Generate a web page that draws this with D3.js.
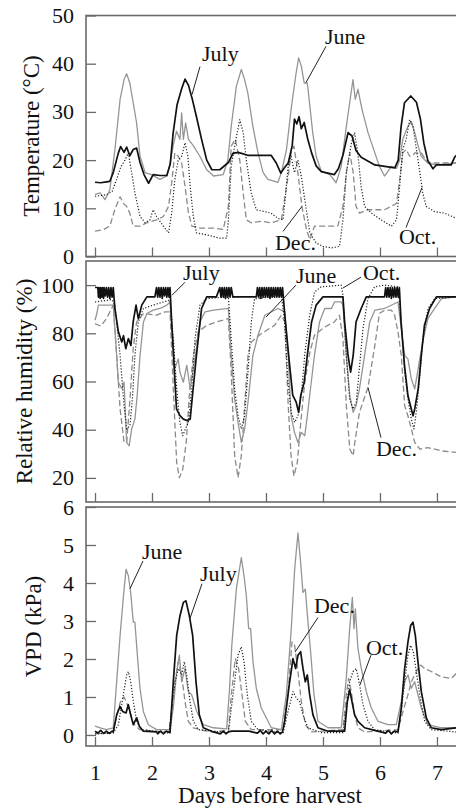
<!DOCTYPE html>
<html><head><meta charset="utf-8">
<script src="https://cdn.jsdelivr.net/npm/d3@7"></script>
<style>
html,body{margin:0;padding:0;background:#fff;}
svg{display:block;}
svg text{font-family:"Liberation Serif","DejaVu Serif",serif !important;fill:#111;}
</style></head>
<body>
<svg id="chart" width="456" height="808"></svg>
<script>
// ---------------- DATA ----------------
const dayTicks = [1,2,3,4,5,6,7];
const tempTicks = [0,10,20,30,40,50];
const rhTicks = [20,40,60,80,100];
const vpdTicks = [0,1,2,3,4,5,6];

// Temperature (°C)
const tempJune = [[1.0,12.9],[1.09,13.2],[1.175,11.8],[1.26,13.8],[1.35,22.2],[1.44,32.6],[1.51,36.7],[1.555,37.9],[1.61,36],[1.67,31.9],[1.73,27.7],[1.79,20.8],[1.88,17.4],[1.99,17],[2.14,16],[2.26,16.7],[2.32,19.4],[2.37,22.9],[2.43,26],[2.49,24.3],[2.52,29.8],[2.55,24.3],[2.59,27.7],[2.64,24.3],[2.73,22.9],[2.84,20.8],[2.96,18],[3.08,16.7],[3.25,17],[3.33,20],[3.39,27],[3.48,35.3],[3.567,38.8],[3.625,36.7],[3.68,34],[3.77,27],[3.86,21.5],[3.95,17.4],[4.035,16],[4.21,15.4],[4.27,17.4],[4.36,22.2],[4.44,30.5],[4.52,37.4],[4.573,41.2],[4.62,39.5],[4.67,36],[4.725,36],[4.77,31.2],[4.82,25.7],[4.88,20.8],[4.97,17.7],[5.12,17],[5.23,15.3],[5.32,18.7],[5.41,27],[5.485,33.3],[5.526,36.7],[5.567,32.6],[5.614,34.7],[5.66,31.9],[5.70,29.8],[5.79,25.7],[5.91,21.5],[5.99,18.7],[6.08,16.7],[6.2,18.7],[6.29,18.3],[6.345,20],[6.40,24.3],[6.49,27],[6.55,28],[6.61,25.7],[6.67,22.9],[6.725,20.8],[6.84,19.4],[6.99,19],[7.34,19.4]];
const tempJuly = [[1.0,15.4],[1.1,15.3],[1.2,15.5],[1.26,15.6],[1.32,17.4],[1.41,21.5],[1.45,22.8],[1.51,21.6],[1.555,22.7],[1.61,20.9],[1.67,22.2],[1.73,22.5],[1.79,19.5],[1.86,17],[1.94,15.2],[2.02,17],[2.14,16.8],[2.26,16.8],[2.32,19.2],[2.37,25.5],[2.44,31.5],[2.52,34.8],[2.58,36.8],[2.64,35.5],[2.71,32.5],[2.78,29],[2.87,24.3],[2.96,20],[3.05,18],[3.19,18],[3.34,19.5],[3.42,21.4],[3.51,21.6],[3.68,21.0],[4.09,21.0],[4.18,19.4],[4.26,17.3],[4.33,18.5],[4.39,19.4],[4.46,23],[4.50,28.5],[4.54,27.5],[4.58,29.0],[4.62,26.5],[4.67,27.8],[4.73,24.5],[4.80,21.5],[4.88,18.8],[4.97,17.6],[5.2,17.0],[5.27,18.2],[5.35,21],[5.44,25.7],[5.51,25],[5.58,22],[5.67,20.6],[5.91,19.0],[6.26,18.4],[6.32,20],[6.37,26.9],[6.43,31.9],[6.54,33.3],[6.64,32],[6.71,28.5],[6.77,23.5],[6.84,19.9],[6.93,18.2],[6.99,19.0],[7.25,19.0],[7.31,20.6],[7.34,21]];
const tempOct = [[1.0,12.5],[1.2,12.8],[1.3,13.5],[1.38,16],[1.45,18.5],[1.526,20],[1.585,21.5],[1.643,17.4],[1.70,13.2],[1.79,8.3],[1.88,7],[1.965,7.6],[2.02,9.7],[2.08,8.3],[2.2,6.3],[2.29,4.9],[2.345,9],[2.40,15.9],[2.46,20],[2.52,20.8],[2.58,23.6],[2.63,20.8],[2.67,14.5],[2.725,8.3],[2.78,4.9],[2.96,4.5],[3.19,3.8],[3.31,3.8],[3.34,7.6],[3.39,18.7],[3.45,22.9],[3.54,28.4],[3.6,25.7],[3.655,20],[3.74,13.2],[3.83,9.7],[3.98,9.3],[4.09,9],[4.21,7.9],[4.30,7.6],[4.39,18.7],[4.44,20.8],[4.50,17.4],[4.56,20],[4.62,16.7],[4.68,11.8],[4.77,4.9],[4.88,2.8],[5.0,2.1],[5.15,1.8],[5.29,2.1],[5.35,7.6],[5.41,17.4],[5.5,23.6],[5.555,25.7],[5.61,21.5],[5.67,14.5],[5.73,10.4],[5.85,9],[6.02,7.6],[6.2,6.3],[6.29,7.6],[6.345,14.5],[6.40,22.2],[6.46,24.3],[6.52,28.4],[6.58,27],[6.64,22.2],[6.70,17.4],[6.75,13.2],[6.81,10.4],[6.96,9.3],[7.135,9],[7.34,7.9]];
const tempDec = [[1.0,5.25],[1.15,5.6],[1.26,6.3],[1.35,9.8],[1.44,12.4],[1.5,11],[1.555,10.4],[1.61,9],[1.67,6.3],[1.79,6.3],[1.91,7],[2.08,7.6],[2.2,8.3],[2.29,10.4],[2.345,15.2],[2.40,21.5],[2.46,20.8],[2.52,19.4],[2.58,14.5],[2.64,9],[2.70,6.3],[2.84,5.9],[3.08,5.9],[3.25,5.6],[3.34,10.4],[3.39,22.9],[3.46,24.3],[3.54,20],[3.6,13.2],[3.655,7.6],[3.74,7],[3.92,7.3],[4.09,7],[4.27,7.6],[4.39,16.7],[4.44,21.5],[4.49,22.9],[4.56,17.4],[4.63,10.4],[4.71,5.6],[4.77,3.5],[4.85,6.3],[5.09,6.3],[5.26,6.3],[5.35,10.4],[5.41,17.4],[5.47,21.5],[5.53,17.4],[5.58,10.4],[5.64,9],[5.79,9.7],[6.08,9.7],[6.29,11],[6.345,15.9],[6.40,21.5],[6.46,22.2],[6.52,20.8],[6.58,21],[6.61,21.5],[6.725,21.5],[6.84,19.4],[7.34,19.4]];

// Relative humidity (%)
const rhJune = [[1.0,85.4],[1.03,88],[1.06,91.7],[1.32,91.7],[1.38,70.8],[1.41,59.7],[1.47,57],[1.51,59.7],[1.555,34.7],[1.60,33.3],[1.643,40.3],[1.70,44.4],[1.74,54.2],[1.79,70.8],[1.85,84.7],[1.91,88.2],[2.02,89.6],[2.14,90.3],[2.26,91.7],[2.316,93],[2.36,79.2],[2.40,65.3],[2.46,69.4],[2.49,63.9],[2.55,59.7],[2.61,66.7],[2.67,57],[2.725,65.3],[2.78,73.6],[2.84,84.7],[2.93,88.9],[3.08,89.6],[3.34,90.3],[3.39,70.8],[3.45,52.8],[3.51,43],[3.567,34.7],[3.625,40.3],[3.684,51.4],[3.77,70.8],[3.86,79.2],[3.98,87.5],[4.21,90.3],[4.33,88.9],[4.39,70.8],[4.44,45.8],[4.50,38.9],[4.56,34.7],[4.62,38.9],[4.68,37.5],[4.725,45.8],[4.78,56.9],[4.85,70.8],[4.94,84.7],[5.03,90.3],[5.15,90.3],[5.2,93],[5.32,93],[5.35,91.7],[5.41,70.8],[5.47,54.2],[5.53,47.2],[5.58,50],[5.64,56.9],[5.73,70.8],[5.82,84.7],[5.91,89.6],[6.08,90.3],[6.316,93],[6.374,81.9],[6.433,70.8],[6.49,69.4],[6.55,61.1],[6.61,56.9],[6.67,65.3],[6.75,76.4],[6.84,86.1],[6.96,90.3],[7.08,94.4],[7.34,95.1]];
const rhJuly = [[1.0,99],[1.05,99],[1.06,95],[1.07,99],[1.09,94.5],[1.1,99],[1.12,95],[1.13,99],[1.15,94.5],[1.16,99],[1.18,95.5],[1.2,99],[1.22,95],[1.24,99],[1.26,94.5],[1.28,99],[1.3,95],[1.32,99],[1.35,90],[1.41,80.6],[1.47,76.4],[1.50,79],[1.54,73.6],[1.585,77.8],[1.63,75],[1.67,84.7],[1.72,91.7],[1.76,86],[1.82,91.7],[1.91,95.1],[2.05,95.1],[2.08,99],[2.1,95],[2.12,99],[2.14,95],[2.16,99],[2.18,94.5],[2.2,99],[2.22,95.5],[2.24,99],[2.26,95],[2.28,99],[2.3,95],[2.316,99],[2.345,84.7],[2.39,65.3],[2.43,48.6],[2.49,45.8],[2.55,44.4],[2.61,43.8],[2.67,44.4],[2.71,54.2],[2.78,70.8],[2.87,90.3],[2.96,95.1],[3.13,95.1],[3.19,99],[3.21,95],[3.23,99],[3.25,95],[3.27,99],[3.29,94.5],[3.31,99],[3.33,95],[3.35,99],[3.37,95],[3.39,99],[3.42,95],[3.45,95.1],[3.83,95.1],[3.85,99],[3.87,95],[3.89,99],[3.91,94.5],[3.93,99],[3.95,95],[3.97,99],[3.99,95],[4.01,99],[4.03,95],[4.05,99],[4.07,94.5],[4.09,99],[4.11,95],[4.13,99],[4.15,95],[4.17,99],[4.19,95],[4.21,99],[4.23,95],[4.25,99],[4.27,95],[4.29,99],[4.33,87.5],[4.415,66.7],[4.47,54.2],[4.53,51.4],[4.573,47.2],[4.61,54.2],[4.67,59.7],[4.725,70.8],[4.8,84.7],[4.88,91.7],[5.0,95.1],[5.35,95.1],[5.38,84.7],[5.44,70.8],[5.485,63.9],[5.53,70.8],[5.58,84.7],[5.67,90.3],[5.76,95.1],[6.08,95.1],[6.1,99],[6.12,95],[6.14,99],[6.16,95],[6.18,99],[6.2,94.5],[6.22,99],[6.24,95],[6.26,99],[6.28,95],[6.3,99],[6.32,95],[6.34,99],[6.37,84.7],[6.43,66.7],[6.49,54.2],[6.55,48.6],[6.58,45.8],[6.61,48.6],[6.67,56.9],[6.725,70.8],[6.78,83.3],[6.87,90.3],[6.99,95.1],[7.34,95.1]];
const rhOct = [[1.0,93],[1.3,94],[1.35,91.7],[1.44,70.8],[1.51,50],[1.555,40.3],[1.614,41.7],[1.66,54.2],[1.70,70.8],[1.76,84.7],[1.85,90.3],[2.02,91.7],[2.2,93],[2.316,93.8],[2.374,77.8],[2.433,57],[2.49,43],[2.54,37.5],[2.585,40.3],[2.637,43],[2.696,57],[2.754,77.8],[2.842,91.7],[2.96,94.4],[3.34,95.1],[3.39,77.8],[3.45,57],[3.51,45.8],[3.567,40.3],[3.625,45.8],[3.684,63.9],[3.742,84.7],[3.80,94.4],[3.86,94.4],[4.27,95.8],[4.327,84.7],[4.386,59.7],[4.444,47.2],[4.503,43],[4.561,45.8],[4.62,54.2],[4.678,70.8],[4.766,87.5],[4.853,97.2],[4.97,99.3],[5.32,100],[5.35,95.8],[5.409,70.8],[5.468,52.8],[5.526,48.6],[5.584,51.4],[5.643,66.7],[5.702,81.9],[5.789,94.4],[5.906,99.3],[6.08,100],[6.316,99.3],[6.374,84.7],[6.433,63.9],[6.491,52.8],[6.55,44.4],[6.596,40.3],[6.637,47.2],[6.696,61.1],[6.754,77.8],[6.842,90.3],[6.96,94.4],[7.34,95.1]];
const rhDec = [[1.0,84],[1.1,83],[1.2,86],[1.32,91.7],[1.38,70.8],[1.44,48.6],[1.51,34.7],[1.555,34.7],[1.61,51.4],[1.67,73.6],[1.73,84.7],[1.85,88.2],[2.08,87.5],[2.23,88.9],[2.316,88.9],[2.374,56.9],[2.433,26.4],[2.48,20.1],[2.54,23.6],[2.6,34.7],[2.655,54.2],[2.725,70.8],[2.81,80.6],[2.96,83.3],[3.13,84.7],[3.34,86.1],[3.39,63.9],[3.45,29.2],[3.51,20.1],[3.567,29.2],[3.625,50],[3.684,70.8],[3.742,76.4],[3.92,79.9],[4.15,83.3],[4.27,87.5],[4.33,84.7],[4.39,50],[4.44,29.2],[4.49,20.8],[4.55,26.4],[4.61,43],[4.68,59.7],[4.77,72.2],[4.85,79.2],[5.03,82.6],[5.2,84.7],[5.29,87.5],[5.35,77.8],[5.41,50],[5.47,32],[5.53,29.2],[5.56,35],[5.64,47.2],[5.79,57.6],[5.91,75],[5.99,88.2],[6.08,89.6],[6.2,89.6],[6.257,87.5],[6.316,80.6],[6.374,70.8],[6.433,50],[6.49,45.8],[6.55,40.3],[6.61,34.7],[6.7,31.9],[6.84,32.6],[7.08,31.2],[7.34,30.6]];

// VPD (kPa)
const vpdJune = [[1.0,0.23],[1.09,0.19],[1.2,0.14],[1.32,0.19],[1.38,1.4],[1.44,2.62],[1.50,3.67],[1.544,4.36],[1.585,4.19],[1.626,3.75],[1.672,2.97],[1.70,2.97],[1.743,2.1],[1.789,1.23],[1.848,0.62],[1.936,0.27],[2.08,0.14],[2.316,0.14],[2.374,0.71],[2.433,1.67],[2.48,2.1],[2.52,1.4],[2.579,1.75],[2.637,1.14],[2.696,1.06],[2.784,0.62],[2.9,0.27],[3.076,0.19],[3.31,0.16],[3.36,1.2],[3.40,2.36],[3.48,3.84],[3.567,4.67],[3.614,4.19],[3.655,3.67],[3.696,2.8],[3.73,2.8],[3.772,1.93],[3.83,1.23],[3.918,0.71],[4.093,0.19],[4.269,0.14],[4.357,1.06],[4.444,2.8],[4.503,4.36],[4.561,5.32],[4.608,4.53],[4.649,3.75],[4.69,3.84],[4.737,2.97],[4.783,2.19],[4.842,1.06],[4.912,0.36],[5.088,0.19],[5.321,0.19],[5.409,1.49],[5.468,2.8],[5.515,3.62],[5.544,2.8],[5.567,3.32],[5.614,2.27],[5.672,1.75],[5.76,1.14],[5.848,0.71],[5.965,0.36],[6.14,0.27],[6.286,0.27],[6.374,0.88],[6.433,1.4],[6.491,1.58],[6.55,1.23],[6.608,1.4],[6.666,1.06],[6.725,0.71],[6.842,0.27],[7.076,0.19],[7.34,0.19]];
const vpdJuly = [[1.0,0.1],[1.05,0.05],[1.1,0.12],[1.15,0.04],[1.2,0.1],[1.25,0.04],[1.3,0.1],[1.32,0.08],[1.38,0.53],[1.438,0.75],[1.485,0.62],[1.544,0.58],[1.585,0.8],[1.626,0.53],[1.672,0.27],[1.731,0.45],[1.778,0.23],[1.848,0.1],[2.08,0.08],[2.1,0.03],[2.15,0.1],[2.2,0.03],[2.25,0.1],[2.316,0.06],[2.374,1.4],[2.433,2.62],[2.491,3.14],[2.55,3.49],[2.596,3.53],[2.655,3.14],[2.713,2.62],[2.772,1.4],[2.83,0.53],[2.9,0.19],[3.076,0.08],[3.2,0.03],[3.25,0.1],[3.3,0.03],[3.34,0.08],[3.4,0.1],[3.7,0.1],[3.85,0.05],[3.9,0.12],[3.95,0.03],[4.0,0.1],[4.05,0.03],[4.1,0.12],[4.15,0.03],[4.2,0.1],[4.25,0.03],[4.29,0.08],[4.327,0.36],[4.415,1.4],[4.474,2.01],[4.52,1.75],[4.561,2.1],[4.608,2.19],[4.649,1.75],[4.69,1.4],[4.725,1.58],[4.766,1.06],[4.824,0.53],[4.912,0.19],[5.088,0.1],[5.38,0.1],[5.427,0.88],[5.468,1.19],[5.509,0.88],[5.555,0.53],[5.614,0.36],[5.731,0.19],[5.906,0.12],[6.1,0.05],[6.15,0.12],[6.2,0.03],[6.25,0.1],[6.316,0.08],[6.374,0.71],[6.433,1.75],[6.491,2.45],[6.538,2.88],[6.579,2.97],[6.62,2.62],[6.666,1.93],[6.725,1.14],[6.813,0.45],[6.9,0.19],[7.076,0.14],[7.34,0.19]];
const vpdOct = [[1.0,0.03],[1.32,0.05],[1.41,0.27],[1.497,1.06],[1.555,1.58],[1.585,1.67],[1.626,1.4],[1.672,0.88],[1.731,0.36],[1.819,0.14],[2.3,0.05],[2.345,0.71],[2.404,1.4],[2.462,1.75],[2.52,1.58],[2.567,1.93],[2.608,1.58],[2.667,0.88],[2.725,0.36],[2.813,0.14],[3.34,0.06],[3.421,1.06],[3.509,2.1],[3.567,2.32],[3.614,1.93],[3.672,1.06],[3.742,0.36],[3.86,0.14],[4.3,0.05],[4.386,0.62],[4.474,1.14],[4.532,0.97],[4.59,0.88],[4.649,0.53],[4.737,0.19],[4.97,0.06],[5.35,0.06],[5.409,0.71],[5.468,1.4],[5.526,1.67],[5.584,1.75],[5.643,1.32],[5.702,0.8],[5.789,0.36],[5.906,0.14],[6.316,0.05],[6.374,0.62],[6.433,1.4],[6.491,2.1],[6.538,2.36],[6.585,2.19],[6.637,1.67],[6.696,1.06],[6.784,0.36],[6.9,0.14],[7.34,0.08]];
const vpdDec = [[1.0,0.03],[1.32,0.06],[1.38,0.5],[1.45,0.9],[1.508,1.0],[1.555,0.85],[1.614,0.6],[1.672,0.3],[1.789,0.14],[2.2,0.08],[2.3,0.1],[2.345,0.62],[2.404,1.4],[2.462,1.93],[2.52,1.58],[2.579,0.88],[2.637,0.36],[2.725,0.19],[3.0,0.08],[3.34,0.12],[3.392,1.06],[3.462,2.01],[3.52,1.75],[3.579,1.06],[3.637,0.36],[3.742,0.14],[4.3,0.14],[4.386,1.06],[4.456,2.45],[4.503,2.36],[4.561,1.67],[4.62,0.88],[4.69,0.27],[4.795,0.08],[5.35,0.14],[5.409,1.06],[5.45,1.49],[5.497,1.14],[5.555,0.53],[5.614,0.19],[5.73,0.08],[6.316,0.14],[6.404,0.62],[6.491,1.06],[6.55,1.4],[6.608,1.58],[6.666,1.75],[6.713,1.84],[6.784,1.75],[6.9,1.67],[7.076,1.53],[7.251,1.49],[7.34,1.62]];

// Callout labels: [text, labelDay, labelValue, fromDay, fromValue, toDay, toValue]
const tempLabels = [["July",2.877,40.5,2.842,39.4,2.702,33.6],["June",5.035,44.0,5.053,43.6,4.702,36.1],["Dec.",4.158,1.45,4.298,5.2,4.632,10.4],["Oct.",6.333,2.5,6.456,6.0,6.737,14.3]];
const rhLabels = [["July",2.544,102.1,2.579,101.2,2.351,95.8],["June",4.526,100.8,4.526,100,4.0,86.7],["Oct.",5.702,102.1,5.667,103.3,5.351,98.8],["Dec.",5.93,29.2,6.018,36.7,5.79,57.5]];
const vpdLabels = [["June",1.825,4.63,1.842,4.58,1.614,3.85],["July",2.842,4.06,2.877,3.98,2.667,3.07],["Dec.",4.842,3.2,4.912,3.09,4.509,2.18],["Oct.",5.754,2.1,5.842,2.1,5.649,1.32]];

// ---------------- DRAW ----------------
const SERIF = '"Liberation Serif","DejaVu Serif",serif';
const svg = d3.select("#chart");
const x = d3.scaleLinear().domain([0.842, 7.404]).range([86, 460]);
const styles = {
  June: {stroke:"#959595", w:1.3, dash:null},
  July: {stroke:"#111", w:1.7, dash:null},
  Oct:  {stroke:"#222", w:1.2, dash:"1.2,1.8"},
  Dec:  {stroke:"#8a8a8a", w:1.3, dash:"6,3"}
};
const panels = [
  {id:"t", top:15.5, bottom:256.5, domain:[0,50], ticks:tempTicks, title:"Temperature (°C)", tx:39,
   series:{Dec:tempDec, June:tempJune, Oct:tempOct, July:tempJuly}, labels:tempLabels},
  {id:"rh", top:261, bottom:502, domain:[10,110], ticks:rhTicks, title:"Relative humidity (%)", tx:32,
   series:{Dec:rhDec, June:rhJune, Oct:rhOct, July:rhJuly}, labels:rhLabels},
  {id:"v", top:507, bottom:746, domain:[-0.29,6], ticks:vpdTicks, title:"VPD (kPa)", tx:40.5,
   series:{Dec:vpdDec, June:vpdJune, Oct:vpdOct, July:vpdJuly}, labels:vpdLabels}
];
const frameColor = "#6a6a6a";
panels.forEach((p, i) => {
  const y = d3.scaleLinear().domain(p.domain).range([p.bottom, p.top]);
  const g = svg.append("g");
  svg.append("clipPath").attr("id","clip-"+p.id).append("rect")
    .attr("x",x.range()[0]).attr("y",p.top).attr("width",x.range()[1]-x.range()[0]).attr("height",p.bottom-p.top);
  const line = d3.line().x(d=>x(d[0])).y(d=>y(d[1]));
  const lg = g.append("g").attr("clip-path","url(#clip-"+p.id+")");
  Object.entries(p.series).forEach(([k, data]) => {
    const s = styles[k];
    lg.append("path").datum(data).attr("d", line).attr("fill","none")
      .attr("stroke", s.stroke).attr("stroke-width", s.w)
      .attr("stroke-dasharray", s.dash).attr("stroke-linejoin","round");
  });
  g.append("rect").attr("x",x.range()[0]).attr("y",p.top)
    .attr("width",x.range()[1]-x.range()[0]).attr("height",p.bottom-p.top)
    .attr("fill","none").attr("stroke",frameColor).attr("stroke-width",1.6);
  const ya = g.append("g").attr("transform",`translate(${x.range()[0]},0)`)
    .call(d3.axisLeft(y).tickValues(p.ticks).tickSize(-10).tickSizeOuter(0).tickPadding(12).tickFormat(d3.format("d")));
  ya.attr("font-family", SERIF).attr("font-size", 22);
  ya.select(".domain").remove();
  ya.selectAll(".tick line").attr("stroke",frameColor).attr("stroke-width",1.3);
  ya.selectAll(".tick text").style("font-family",SERIF).style("font-size","22px").attr("fill","#111");
  const xa = g.append("g").attr("transform",`translate(0,${p.bottom})`)
    .call(d3.axisBottom(x).tickValues(dayTicks).tickSize(-9).tickSizeOuter(0).tickPadding(18).tickFormat(d3.format("d")));
  xa.attr("font-family", SERIF).attr("font-size", 22);
  xa.select(".domain").remove();
  xa.selectAll(".tick line").attr("stroke",frameColor).attr("stroke-width",1.3);
  if (i < panels.length-1) xa.selectAll(".tick text").remove();
  else xa.selectAll(".tick text").style("font-family",SERIF).style("font-size","22px").attr("fill","#111");
  g.append("text").attr("transform",`translate(${p.tx},${(p.top+p.bottom)/2}) rotate(-90)`)
    .attr("text-anchor","middle").style("font-family",SERIF).style("font-size","23px").text(p.title);
  p.labels.forEach(l => {
    g.append("line").attr("x1",x(l[3])).attr("y1",y(l[4])).attr("x2",x(l[5])).attr("y2",y(l[6]))
      .attr("stroke","#222").attr("stroke-width",1);
    g.append("text").attr("x",x(l[1])).attr("y",y(l[2])).style("font-family",SERIF).style("font-size","22px").text(l[0]);
  });
});
svg.append("text").attr("x",270).attr("y",803).attr("text-anchor","middle")
  .style("font-family",SERIF).style("font-size","23px").text("Days before harvest");
</script>
</body></html>
